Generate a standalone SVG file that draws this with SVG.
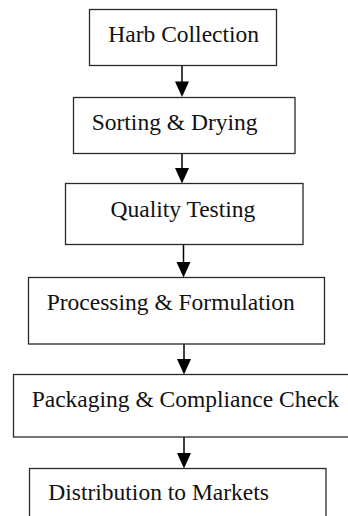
<svg xmlns="http://www.w3.org/2000/svg" width="348" height="516" viewBox="0 0 348 516">
  <style>
    .box { fill: #ffffff; stroke: #2a2a2a; stroke-width: 1.3; }
    .label { font-family: "Liberation Serif", "Times New Roman", serif; font-size: 23.5px; fill: #111111; }
    .edge { stroke: #000000; stroke-width: 1.5; fill: none; }
    .head { fill: #000000; }
  </style>
  <rect width="348" height="516" fill="#ffffff"/>
  <g id="connectors">
    <line class="edge" x1="182" y1="65.5" x2="182" y2="83"/>
    <polygon class="head" points="175,81.5 189,81.5 182,97"/>
    <line class="edge" x1="182" y1="153.5" x2="182" y2="169"/>
    <polygon class="head" points="175,168 189,168 182,183.5"/>
    <line class="edge" x1="183.5" y1="244.5" x2="183.5" y2="263"/>
    <polygon class="head" points="176.5,262 190.5,262 183.5,277.5"/>
    <line class="edge" x1="184" y1="344" x2="184" y2="360"/>
    <polygon class="head" points="177,359 191,359 184,374.5"/>
    <line class="edge" x1="184" y1="437" x2="184" y2="454"/>
    <polygon class="head" points="177,453 191,453 184,468.5"/>
  </g>
  <g id="harb-collection">
    <rect class="box" x="89.5" y="9.5" width="187" height="56"/>
    <text class="label" x="108.3" y="41.7">Harb Collection</text>
  </g>
  <g id="sorting-drying">
    <rect class="box" x="73.5" y="97.5" width="221.5" height="56"/>
    <text class="label" x="91.7" y="129.7">Sorting &amp; Drying</text>
  </g>
  <g id="quality-testing">
    <rect class="box" x="65.5" y="183.5" width="237.5" height="61"/>
    <text class="label" x="110.5" y="216.5">Quality Testing</text>
  </g>
  <g id="processing-formulation">
    <rect class="box" x="28.5" y="277.5" width="296" height="66.5"/>
    <text class="label" x="46.7" y="309.5">Processing &amp; Formulation</text>
  </g>
  <g id="packaging-compliance">
    <rect class="box" x="13.5" y="374.5" width="345" height="62.5"/>
    <text class="label" x="31.7" y="406.7">Packaging &amp; Compliance Check</text>
  </g>
  <g id="distribution-markets">
    <rect class="box" x="29.5" y="468.5" width="296.5" height="60"/>
    <text class="label" x="48.3" y="500">Distribution to Markets</text>
  </g>
</svg>
